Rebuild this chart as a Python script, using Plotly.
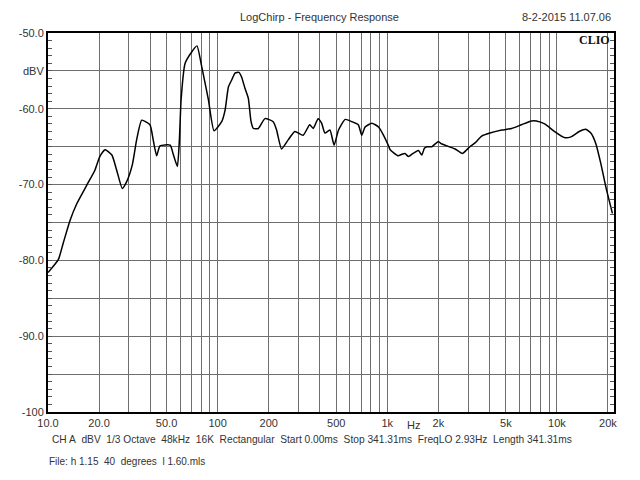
import math
import plotly.graph_objects as go

freq_hz = [10, 11.5, 12.3, 13.5, 14.8, 16.9, 18.9, 20.2, 21.7, 23.8, 25.4, 27.4, 29.1,
           31.4, 33.3, 35.7, 39.9, 41.7, 43.7, 45.7, 52.5, 54.9, 57.9, 59.5, 60.9,
           64.3, 70.3, 75.5, 80.5, 88.2, 95.2, 105.6, 110.6, 115.8, 121, 126.6, 133.4,
           138.4, 144.9, 151.6, 157.4, 162.5, 173.8, 190.1, 212.6, 222.6, 238.1, 260.5,
           285.2, 319, 349, 366, 391, 410, 429, 459, 486, 516, 565, 619, 675, 707, 740,
           811, 888, 951, 1018, 1040, 1159, 1218, 1270, 1332, 1358, 1394, 1526, 1598,
           1655, 1710, 1830, 2000, 2075, 2190, 2510, 2770, 2943, 3070, 3290, 3600, 4030,
           4730, 5410, 6180, 7080, 7570, 8470, 9690, 11070, 12100, 13530, 14800, 15850,
           16960, 18140, 19420, 21240]
level_dbv = [-81.6, -79.9, -77.7, -74.7, -72.5, -70.1, -68.1, -66.3, -65.4, -66.1, -68.1,
             -70.5, -69.6, -67.4, -64.1, -61.5, -62.1, -64.1, -66.2, -64.9, -64.8, -66.1,
             -67.6, -64.1, -58.8, -54.0, -52.5, -51.7, -54.4, -58.8, -62.9, -61.7, -60.2,
             -57.1, -56.2, -55.3, -55.2, -55.8, -57.3, -58.6, -61.7, -62.6, -62.6, -61.3,
             -61.7, -62.8, -65.3, -64.1, -63.0, -63.5, -62.1, -62.6, -61.3, -61.9, -63.2,
             -62.8, -64.8, -62.8, -61.4, -61.7, -62.1, -63.5, -62.4, -61.9, -62.4, -63.5,
             -64.9, -65.4, -66.2, -66.0, -65.9, -66.3, -66.2, -66.0, -65.5, -66.1,
             -65.2, -65.0, -65.0, -64.3, -64.6, -64.8, -65.3, -65.9, -65.4, -65.0, -64.5,
             -63.6, -63.2, -62.8, -62.6, -62.1, -61.6, -61.6, -62.0, -63.0, -63.8, -63.7,
             -63.0, -62.7, -63.2, -64.6, -67.2, -70.3, -73.8]

x_grid_hz = [20, 30, 40, 50, 60, 70, 80, 90, 100, 200, 300, 400, 500, 600, 700, 800, 900,
             1000, 2000, 3000, 4000, 5000, 6000, 7000, 8000, 9000, 10000, 20000]
x_labels = {20: "20.0", 50: "50.0", 100: "100", 200: "200", 500: "500", 1000: "1k",
            2000: "2k", 5000: "5k", 10000: "10k", 20000: "20k"}
y_grid = [-100, -95, -90, -85, -80, -75, -70, -65, -60, -55, -50]
y_labels = {-100: "-100", -90: "-90.0", -80: "-80.0", -70: "-70.0", -60: "-60.0",
            -55: "dBV", -50: "-50.0"}

title_text = "LogChirp - Frequency Response"
date_text = "8-2-2015 11.07.06"
info_line = ["CH A", "dBV", "1/3 Octave", "48kHz", "16K", "Rectangular", "Start 0.00ms",
             "Stop 341.31ms", "FreqLO 2.93Hz", "Length 341.31ms"]
file_line = ["File: h 1.15", "40", "degrees", "l 1.60.mls"]

W, H = 640, 480
L, R, T, B = 48, 614, 33, 412
FONT = "Liberation Sans"
GAP = "\u00a0\u00a0"
GRID = "#6e6e6e"

fig = go.Figure()
fig.add_trace(go.Scatter(x=freq_hz, y=level_dbv, mode="lines",
                         line=dict(color="black", width=1.5, shape="spline", smoothing=0.5),
                         hoverinfo="skip"))

xt = [10] + x_grid_hz
fig.update_xaxes(type="log", range=[1, math.log10(21700)],
                 tickvals=xt, ticktext=["10.0"] + [x_labels.get(v, "") for v in x_grid_hz],
                 showgrid=True, gridcolor=GRID, gridwidth=1,
                 showline=True, linecolor="black", linewidth=2, mirror=True,
                 ticks="", tickfont=dict(family=FONT, size=11, color="#333333"),
                 zeroline=False)
fig.update_yaxes(range=[-100, -50], tickvals=y_grid,
                 ticktext=[y_labels.get(v, "") for v in y_grid],
                 showgrid=True, gridcolor=GRID, gridwidth=1,
                 showline=True, linecolor="black", linewidth=2, mirror="ticks",
                 ticks="inside", ticklen=4, tickcolor="#555555",
                 minor=dict(dtick=1, ticks="inside", ticklen=4, tickcolor="#555555", showgrid=False),
                 tickfont=dict(family=FONT, size=11, color="#333333"), zeroline=False)

def py(Y):
    return (B - Y) / (B - T)

def px(X):
    return (X - L) / (R - L)

ann = [
    dict(text=title_text, x=px(319), y=py(17), xanchor="center", yanchor="middle",
         font=dict(family=FONT, size=11, color="#333333")),
    dict(text=date_text, x=px(613), y=py(17), xanchor="right", yanchor="middle",
         font=dict(family=FONT, size=11, color="#333333")),
    dict(text="<b>CLIO</b>", x=px(612), y=py(40), xanchor="right", yanchor="middle",
         font=dict(family="Liberation Serif", size=12, color="#111111")),
    dict(text=GAP.join(info_line), x=px(50), y=py(439), xanchor="left", yanchor="middle",
         font=dict(family=FONT, size=10.2, color="#333333")),
    dict(text=GAP.join(file_line), x=px(47), y=py(461), xanchor="left", yanchor="middle",
         font=dict(family=FONT, size=10, color="#333333")),
]
for a in ann:
    a.update(xref="paper", yref="paper", showarrow=False)
ann.append(dict(text="Hz", x=math.log10(1419), y=py(425), xref="x", yref="paper",
                xanchor="center", yanchor="middle", showarrow=False,
                font=dict(family=FONT, size=11, color="#333333")))

fig.update_layout(width=W, height=H, margin=dict(l=L, r=W - R, t=T, b=H - B),
                  paper_bgcolor="white", plot_bgcolor="white", showlegend=False,
                  annotations=ann)
fig.write_html("out.html")
